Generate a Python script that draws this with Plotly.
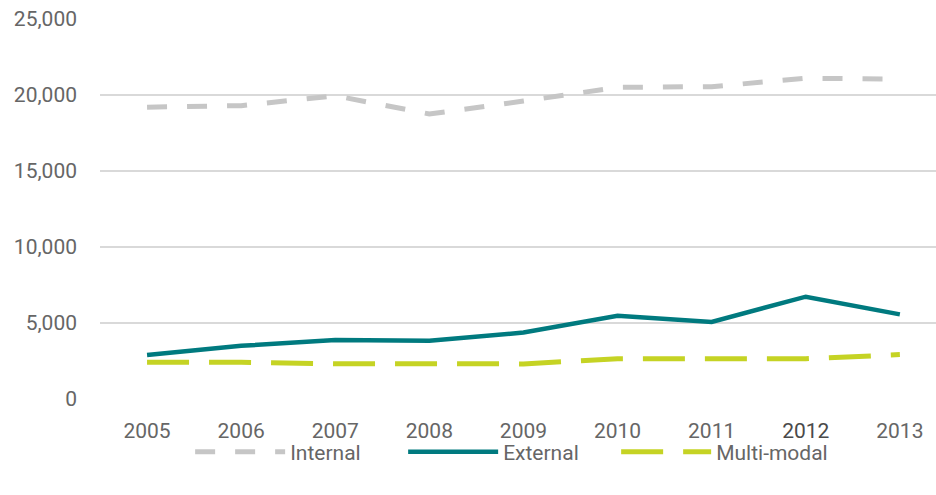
import plotly.graph_objects as go

years = ["2005", "2006", "2007", "2008", "2009", "2010", "2011", "2012", "2013"]
internal = [19200, 19300, 19950, 18750, 19600, 20500, 20550, 21100, 21050]
external = [2900, 3500, 3880, 3840, 4370, 5480, 5070, 6730, 5570]
multimodal = [2410, 2420, 2320, 2290, 2310, 2650, 2610, 2650, 2920]
highlight_year = "2012"

FONT = "Roboto, Arial, sans-serif"
TEXT = "#666666"

fig = go.Figure()
fig.add_trace(go.Scatter(
    x=years, y=internal, name="Internal", mode="lines",
    line=dict(color="#c6c6c6", width=5, dash="20px,20px"),
))
fig.add_trace(go.Scatter(
    x=years, y=external, name="External", mode="lines",
    line=dict(color="#007a7f", width=4.5),
))
fig.add_trace(go.Scatter(
    x=years, y=multimodal, name="Multi-modal", mode="lines",
    line=dict(color="#c5d324", width=5, dash="42px,20px"),
))

# year labels; the highlighted year is printed a shade darker
year_text = [f"<span style='color:#4a4a4a'>{y}</span>" if y == highlight_year else y
             for y in years]

fig.update_layout(
    width=936, height=495,
    margin=dict(l=100, r=0, t=19, b=96),
    paper_bgcolor="white", plot_bgcolor="white",
    font=dict(family=FONT, size=21, color=TEXT),
    showlegend=True,
    legend=dict(orientation="h", x=0.49, xanchor="center", y=-0.14, yanchor="middle",
                bgcolor="rgba(0,0,0,0)",
                font=dict(family=FONT, size=21, color=TEXT), itemwidth=90,
                entrywidth=108, tracegroupgap=0),
    xaxis=dict(range=[-0.5, 8.384], showgrid=False, zeroline=False, showline=False,
               tickmode="array", tickvals=years, ticktext=year_text,
               ticks="", ticklabelstandoff=17, tickfont=dict(size=21, color=TEXT)),
    yaxis=dict(range=[0, 25000], dtick=5000, tickformat=",d", showgrid=True,
               gridcolor="#d9d9d9", gridwidth=1.5, zeroline=False, showline=False,
               ticks="", ticklabelstandoff=22, tickfont=dict(size=21, color=TEXT)),
)

fig.write_html("out.html")
